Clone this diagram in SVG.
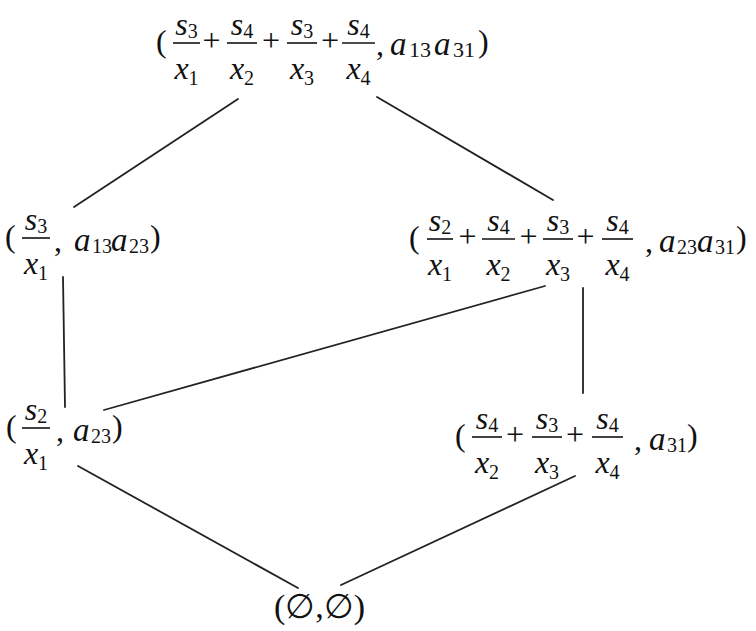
<svg xmlns="http://www.w3.org/2000/svg" width="756" height="631" viewBox="0 0 756 631" font-family="Liberation Serif" font-size="32" fill="#111">
<style>
.i{font-style:italic;font-size:32px}
.ia{font-style:italic;font-size:33px}
.s{font-size:20px;font-style:normal}
.bar{stroke:#111;stroke-width:1.6}
.edge{stroke:#222;stroke-width:1.8;fill:none;stroke-linecap:round}
</style>
<rect width="756" height="631" fill="#fff"/>
<g id="connectors">
<line class="edge" x1="238" y1="99" x2="74" y2="207"/>
<line class="edge" x1="377" y1="97" x2="553" y2="200"/>
<line class="edge" x1="63" y1="277" x2="65" y2="407"/>
<line class="edge" x1="545" y1="286" x2="104" y2="410"/>
<line class="edge" x1="583" y1="288" x2="583" y2="393"/>
<line class="edge" x1="78" y1="466" x2="298" y2="588"/>
<line class="edge" x1="575" y1="476" x2="341" y2="585"/>
</g>
<g id="top">
<text x="156" y="52">(</text>
<text x="186.5" y="35" text-anchor="middle"><tspan class="i">s</tspan><tspan class="s" dy="3">3</tspan></text>
<line class="bar" x1="173" y1="43" x2="200" y2="43"/>
<text x="186.5" y="79" text-anchor="middle"><tspan class="i">x</tspan><tspan class="s" dy="6">1</tspan></text>
<text x="211.5" y="51" text-anchor="middle">+</text>
<text x="242" y="35" text-anchor="middle"><tspan class="i">s</tspan><tspan class="s" dy="3">4</tspan></text>
<line class="bar" x1="227" y1="43" x2="257" y2="43"/>
<text x="242" y="79" text-anchor="middle"><tspan class="i">x</tspan><tspan class="s" dy="6">2</tspan></text>
<text x="271" y="51" text-anchor="middle">+</text>
<text x="302" y="35" text-anchor="middle"><tspan class="i">s</tspan><tspan class="s" dy="3">3</tspan></text>
<line class="bar" x1="287" y1="43" x2="317" y2="43"/>
<text x="302" y="79" text-anchor="middle"><tspan class="i">x</tspan><tspan class="s" dy="6">3</tspan></text>
<text x="330" y="51" text-anchor="middle">+</text>
<text x="358.5" y="35" text-anchor="middle"><tspan class="i">s</tspan><tspan class="s" dy="3">4</tspan></text>
<line class="bar" x1="342" y1="43" x2="375" y2="43"/>
<text x="358.5" y="79" text-anchor="middle"><tspan class="i">x</tspan><tspan class="s" dy="6">4</tspan></text>
<text x="376" y="55">,</text>
<text y="55"><tspan class="ia" x="390">a</tspan><tspan class="s" x="409" dy="2" style="font-size:22px">13</tspan><tspan class="ia" x="434" dy="-2">a</tspan><tspan class="s" x="453" dy="2" style="font-size:22px">31</tspan></text>
<text x="478" y="52">)</text>
</g>
<g id="left-mid">
<text x="5" y="247">(</text>
<text x="36" y="230" text-anchor="middle"><tspan class="i">s</tspan><tspan class="s" dy="3">3</tspan></text>
<line class="bar" x1="22" y1="238" x2="50" y2="238"/>
<text x="36" y="274" text-anchor="middle"><tspan class="i">x</tspan><tspan class="s" dy="6">1</tspan></text>
<text x="54" y="251">,</text>
<text y="251"><tspan class="ia" x="74">a</tspan><tspan class="s" x="92" dy="2">13</tspan><tspan class="ia" x="111" dy="-2">a</tspan><tspan class="s" x="129" dy="2">23</tspan></text>
<text x="150" y="247">)</text>
</g>
<g id="right-mid">
<text x="409" y="248">(</text>
<text x="440" y="231" text-anchor="middle"><tspan class="i">s</tspan><tspan class="s" dy="3">2</tspan></text>
<line class="bar" x1="427" y1="239" x2="453" y2="239"/>
<text x="440" y="275" text-anchor="middle"><tspan class="i">x</tspan><tspan class="s" dy="6">1</tspan></text>
<text x="467.5" y="247" text-anchor="middle">+</text>
<text x="498.5" y="231" text-anchor="middle"><tspan class="i">s</tspan><tspan class="s" dy="3">4</tspan></text>
<line class="bar" x1="482" y1="239" x2="515" y2="239"/>
<text x="498.5" y="275" text-anchor="middle"><tspan class="i">x</tspan><tspan class="s" dy="6">2</tspan></text>
<text x="528.5" y="247" text-anchor="middle">+</text>
<text x="558" y="231" text-anchor="middle"><tspan class="i">s</tspan><tspan class="s" dy="3">3</tspan></text>
<line class="bar" x1="543" y1="239" x2="573" y2="239"/>
<text x="558" y="275" text-anchor="middle"><tspan class="i">x</tspan><tspan class="s" dy="6">3</tspan></text>
<text x="585.5" y="247" text-anchor="middle">+</text>
<text x="617.5" y="231" text-anchor="middle"><tspan class="i">s</tspan><tspan class="s" dy="3">4</tspan></text>
<line class="bar" x1="602" y1="239" x2="633" y2="239"/>
<text x="617.5" y="275" text-anchor="middle"><tspan class="i">x</tspan><tspan class="s" dy="6">4</tspan></text>
<text x="645" y="252">,</text>
<text y="252"><tspan class="ia" x="659">a</tspan><tspan class="s" x="677" dy="2">23</tspan><tspan class="ia" x="697" dy="-2">a</tspan><tspan class="s" x="715" dy="2">31</tspan></text>
<text x="736" y="248">)</text>
</g>
<g id="left-bottom">
<text x="6" y="437">(</text>
<text x="36" y="420" text-anchor="middle"><tspan class="i">s</tspan><tspan class="s" dy="3">2</tspan></text>
<line class="bar" x1="22" y1="428" x2="50" y2="428"/>
<text x="36" y="464" text-anchor="middle"><tspan class="i">x</tspan><tspan class="s" dy="6">1</tspan></text>
<text x="56" y="441">,</text>
<text y="441"><tspan class="ia" x="73">a</tspan><tspan class="s" x="91" dy="2">23</tspan></text>
<text x="112" y="437">)</text>
</g>
<g id="right-bottom">
<text x="455" y="446">(</text>
<text x="487" y="429" text-anchor="middle"><tspan class="i">s</tspan><tspan class="s" dy="3">4</tspan></text>
<line class="bar" x1="472" y1="437" x2="502" y2="437"/>
<text x="487" y="473" text-anchor="middle"><tspan class="i">x</tspan><tspan class="s" dy="6">2</tspan></text>
<text x="515" y="445" text-anchor="middle">+</text>
<text x="547" y="429" text-anchor="middle"><tspan class="i">s</tspan><tspan class="s" dy="3">3</tspan></text>
<line class="bar" x1="532" y1="437" x2="562" y2="437"/>
<text x="547" y="473" text-anchor="middle"><tspan class="i">x</tspan><tspan class="s" dy="6">3</tspan></text>
<text x="575" y="445" text-anchor="middle">+</text>
<text x="607.5" y="429" text-anchor="middle"><tspan class="i">s</tspan><tspan class="s" dy="3">4</tspan></text>
<line class="bar" x1="592" y1="437" x2="623" y2="437"/>
<text x="607.5" y="473" text-anchor="middle"><tspan class="i">x</tspan><tspan class="s" dy="6">4</tspan></text>
<text x="634" y="450">,</text>
<text y="450"><tspan class="ia" x="649">a</tspan><tspan class="s" x="667" dy="2">31</tspan></text>
<text x="687" y="446">)</text>
</g>
<g id="bottom">
<text x="274" y="618" font-size="34">(∅,∅)</text>
</g>
</svg>
